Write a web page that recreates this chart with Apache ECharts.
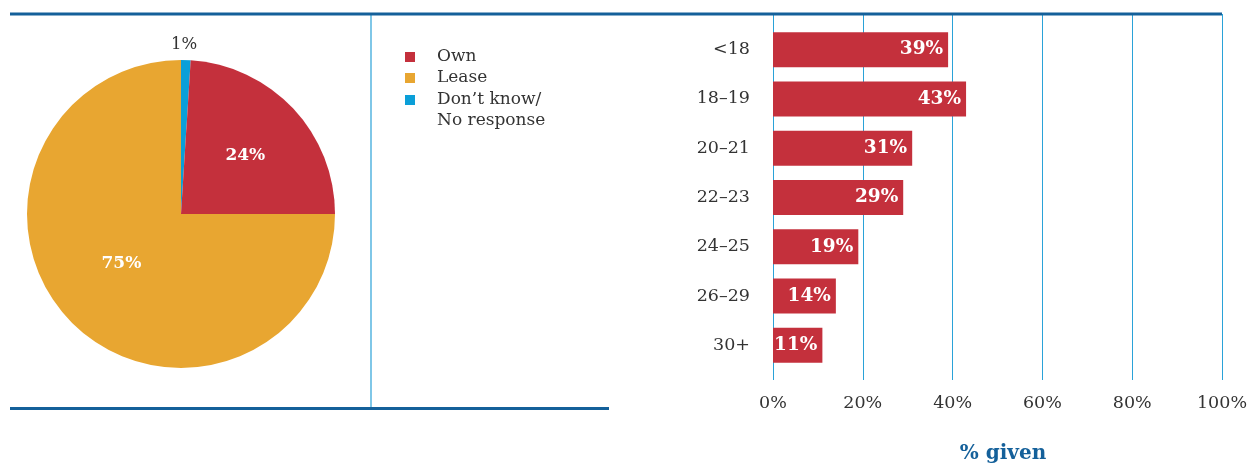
<!DOCTYPE html>
<html>
<head>
<meta charset="utf-8">
<script src="https://cdn.jsdelivr.net/npm/echarts@6/dist/echarts.min.js"></script>
<style>
  html, body { margin: 0; padding: 0; background: #fff; }
  #chart { width: 1256px; height: 465px; }
</style>
</head>
<body>
<div id="chart"></div>
<script>
// Vehicle tenure split (pie), listed in the order the legend shows them
const tenureNames = ['Own', 'Lease', 'Don\u2019t know/\nNo response'];
const tenureShares = [24, 75, 1];
const tenureColors = ['#c4303c', '#e8a631', '#0a9fd8'];
// Slices run clockwise from 12 o'clock in this order
const sliceOrder = [2, 0, 1];

// Share by age group (bars)
const ageGroups = ['<18', '18\u201319', '20\u201321', '22\u201323', '24\u201325', '26\u201329', '30+'];
const ageShares = [39, 43, 31, 29, 19, 14, 11];

// Percentage axis ticks
const pctMin = 0;
const pctMax = 100;
const pctStep = 20;

const SERIF = '"DejaVu Serif", "Liberation Serif", serif';
const INK = '#333333';
const DARK_BLUE = '#14609a';
const LIGHT_BLUE = '#2aa2d8';

const chart = echarts.init(document.getElementById('chart'), null, { renderer: 'canvas' });

const pieData = sliceOrder.map((i) => {
  const item = { name: tenureNames[i], value: tenureShares[i], itemStyle: { color: tenureColors[i] } };
  if (i === 2) {
    item.label = {
      position: 'outside',
      color: INK,
      fontWeight: 'normal',
      fontSize: 16.5,
      distanceToLabelLine: 0
    };
    item.labelLine = { show: false, length: 10, length2: 0 };
  }
  return item;
});

// small nudges for the slice labels, by slice index
const labelNudge = [
  { align: 'center', dx: -2, dy: -5 },
  { dx: 6, dy: -4 },
  { dx: -3, dy: -7 }
];

const legendText = {
  fontFamily: SERIF,
  fontSize: 17,
  color: INK,
  lineHeight: 21,
  padding: [0, 0, 0, 17]
};

chart.setOption({
  animation: false,
  backgroundColor: '#ffffff',
  textStyle: { fontFamily: SERIF },
  legend: [
    {
      orient: 'vertical',
      left: 400,
      top: 41.5,
      itemWidth: 10,
      itemHeight: 10,
      itemGap: 0,
      icon: 'rect',
      selectedMode: false,
      data: [tenureNames[0], tenureNames[1]],
      textStyle: legendText
    },
    {
      // two-line entry: a blank leading line keeps the icon beside the first line
      orient: 'vertical',
      left: 400,
      top: 63.5,
      itemWidth: 10,
      itemHeight: 10,
      icon: 'rect',
      selectedMode: false,
      data: [tenureNames[2]],
      formatter: (name) => ' \n' + name,
      textStyle: legendText
    }
  ],
  grid: [
    { left: 773, right: 34, top: 25, height: 345, outerBoundsMode: 'none' },
    { left: 773, right: 34, top: 14, bottom: 85, outerBoundsMode: 'none' }
  ],
  xAxis: [
    {
      gridIndex: 0,
      type: 'value',
      min: pctMin,
      max: pctMax,
      interval: pctStep,
      show: false
    },
    {
      gridIndex: 1,
      type: 'value',
      min: pctMin,
      max: pctMax,
      interval: pctStep,
      axisLine: { show: false },
      axisTick: { show: false },
      splitLine: { show: true, lineStyle: { color: LIGHT_BLUE, width: 1 } },
      axisLabel: {
        formatter: '{value}%',
        fontFamily: SERIF,
        fontSize: 17.5,
        color: INK,
        margin: 14
      },
      name: '% given',
      nameLocation: 'middle',
      nameGap: 64,
      nameTextStyle: {
        fontFamily: SERIF,
        fontSize: 20,
        fontWeight: 'bold',
        color: DARK_BLUE,
        padding: [0, 0, 0, 11]
      }
    }
  ],
  yAxis: [
    {
      gridIndex: 0,
      type: 'category',
      data: ageGroups,
      inverse: true,
      axisLine: { show: false },
      axisTick: { show: false },
      splitLine: { show: false },
      axisLabel: {
        fontFamily: SERIF,
        fontSize: 17.5,
        color: INK,
        margin: 23
      }
    },
    {
      gridIndex: 1,
      type: 'value',
      min: 0,
      max: 1,
      show: false
    }
  ],
  series: [
    {
      type: 'pie',
      center: [181, 214],
      radius: 154,
      startAngle: 90,
      clockwise: true,
      data: pieData,
      label: {
        show: true,
        position: 'inside',
        formatter: '{c}%',
        fontFamily: SERIF,
        fontSize: 17,
        fontWeight: 'bold',
        color: '#ffffff'
      },
      labelLine: { show: false },
      labelLayout: (params) => labelNudge[params.dataIndex] || {},
      emphasis: { disabled: true }
    },
    {
      type: 'bar',
      xAxisIndex: 0,
      yAxisIndex: 0,
      data: ageShares,
      barWidth: 35,
      itemStyle: { color: '#c4303c' },
      label: {
        show: true,
        position: 'insideRight',
        distance: 5,
        formatter: '{c}%',
        fontFamily: SERIF,
        fontSize: 18.5,
        fontWeight: 'bold',
        color: '#ffffff'
      },
      emphasis: { disabled: true }
    }
  ],
  graphic: [
    {
      type: 'line',
      shape: { x1: 10, y1: 14, x2: 1222, y2: 14 },
      style: { stroke: DARK_BLUE, lineWidth: 3 },
      z: 10
    },
    {
      type: 'line',
      shape: { x1: 10, y1: 408.5, x2: 609, y2: 408.5 },
      style: { stroke: DARK_BLUE, lineWidth: 3 },
      z: 10
    },
    {
      type: 'line',
      shape: { x1: 371, y1: 14, x2: 371, y2: 408 },
      style: { stroke: LIGHT_BLUE, lineWidth: 1.2 },
      z: 9
    }
  ]
});
</script>
</body>
</html>
